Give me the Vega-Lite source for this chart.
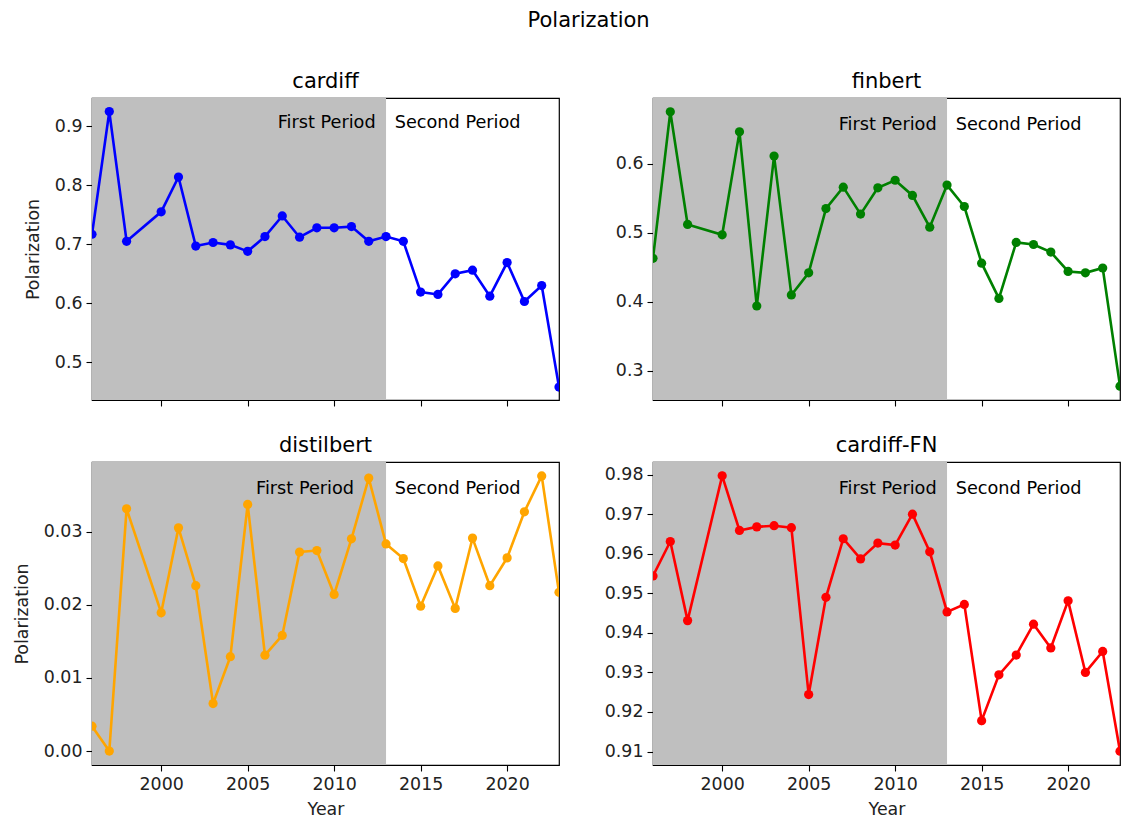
{
  "$schema": "https://vega.github.io/schema/vega-lite/v6.json",
  "background": "white",
  "padding": {"left": 12, "top": 10, "right": 2, "bottom": 2},
  "title": {"text": "Polarization", "anchor": "middle", "fontSize": 21, "fontWeight": "normal", "font": "DejaVu Sans", "color": "#000000", "offset": 39, "dx": 22},
  "datasets": {
    "series": [
      {"model": "cardiff", "year": 1996, "value": 0.717},
      {"model": "cardiff", "year": 1997, "value": 0.925},
      {"model": "cardiff", "year": 1998, "value": 0.705},
      {"model": "cardiff", "year": 2000, "value": 0.755},
      {"model": "cardiff", "year": 2001, "value": 0.814},
      {"model": "cardiff", "year": 2002, "value": 0.697},
      {"model": "cardiff", "year": 2003, "value": 0.703},
      {"model": "cardiff", "year": 2004, "value": 0.699},
      {"model": "cardiff", "year": 2005, "value": 0.688},
      {"model": "cardiff", "year": 2006, "value": 0.713},
      {"model": "cardiff", "year": 2007, "value": 0.748},
      {"model": "cardiff", "year": 2008, "value": 0.712},
      {"model": "cardiff", "year": 2009, "value": 0.728},
      {"model": "cardiff", "year": 2010, "value": 0.728},
      {"model": "cardiff", "year": 2011, "value": 0.730},
      {"model": "cardiff", "year": 2012, "value": 0.705},
      {"model": "cardiff", "year": 2013, "value": 0.713},
      {"model": "cardiff", "year": 2014, "value": 0.705},
      {"model": "cardiff", "year": 2015, "value": 0.619},
      {"model": "cardiff", "year": 2016, "value": 0.615},
      {"model": "cardiff", "year": 2017, "value": 0.650},
      {"model": "cardiff", "year": 2018, "value": 0.656},
      {"model": "cardiff", "year": 2019, "value": 0.612},
      {"model": "cardiff", "year": 2020, "value": 0.669},
      {"model": "cardiff", "year": 2021, "value": 0.603},
      {"model": "cardiff", "year": 2022, "value": 0.630},
      {"model": "cardiff", "year": 2023, "value": 0.458},
      {"model": "finbert", "year": 1996, "value": 0.463},
      {"model": "finbert", "year": 1997, "value": 0.675},
      {"model": "finbert", "year": 1998, "value": 0.512},
      {"model": "finbert", "year": 2000, "value": 0.497},
      {"model": "finbert", "year": 2001, "value": 0.646},
      {"model": "finbert", "year": 2002, "value": 0.394},
      {"model": "finbert", "year": 2003, "value": 0.611},
      {"model": "finbert", "year": 2004, "value": 0.410},
      {"model": "finbert", "year": 2005, "value": 0.442},
      {"model": "finbert", "year": 2006, "value": 0.535},
      {"model": "finbert", "year": 2007, "value": 0.566},
      {"model": "finbert", "year": 2008, "value": 0.527},
      {"model": "finbert", "year": 2009, "value": 0.565},
      {"model": "finbert", "year": 2010, "value": 0.576},
      {"model": "finbert", "year": 2011, "value": 0.554},
      {"model": "finbert", "year": 2012, "value": 0.508},
      {"model": "finbert", "year": 2013, "value": 0.569},
      {"model": "finbert", "year": 2014, "value": 0.538},
      {"model": "finbert", "year": 2015, "value": 0.456},
      {"model": "finbert", "year": 2016, "value": 0.405},
      {"model": "finbert", "year": 2017, "value": 0.486},
      {"model": "finbert", "year": 2018, "value": 0.483},
      {"model": "finbert", "year": 2019, "value": 0.472},
      {"model": "finbert", "year": 2020, "value": 0.444},
      {"model": "finbert", "year": 2021, "value": 0.442},
      {"model": "finbert", "year": 2022, "value": 0.449},
      {"model": "finbert", "year": 2023, "value": 0.278},
      {"model": "distilbert", "year": 1996, "value": 0.0034},
      {"model": "distilbert", "year": 1997, "value": 0.0000},
      {"model": "distilbert", "year": 1998, "value": 0.0331},
      {"model": "distilbert", "year": 2000, "value": 0.0189},
      {"model": "distilbert", "year": 2001, "value": 0.0305},
      {"model": "distilbert", "year": 2002, "value": 0.0226},
      {"model": "distilbert", "year": 2003, "value": 0.0065},
      {"model": "distilbert", "year": 2004, "value": 0.0129},
      {"model": "distilbert", "year": 2005, "value": 0.0337},
      {"model": "distilbert", "year": 2006, "value": 0.0131},
      {"model": "distilbert", "year": 2007, "value": 0.0158},
      {"model": "distilbert", "year": 2008, "value": 0.0272},
      {"model": "distilbert", "year": 2009, "value": 0.0274},
      {"model": "distilbert", "year": 2010, "value": 0.0214},
      {"model": "distilbert", "year": 2011, "value": 0.0290},
      {"model": "distilbert", "year": 2012, "value": 0.0373},
      {"model": "distilbert", "year": 2013, "value": 0.0283},
      {"model": "distilbert", "year": 2014, "value": 0.0263},
      {"model": "distilbert", "year": 2015, "value": 0.0198},
      {"model": "distilbert", "year": 2016, "value": 0.0253},
      {"model": "distilbert", "year": 2017, "value": 0.0195},
      {"model": "distilbert", "year": 2018, "value": 0.0291},
      {"model": "distilbert", "year": 2019, "value": 0.0226},
      {"model": "distilbert", "year": 2020, "value": 0.0264},
      {"model": "distilbert", "year": 2021, "value": 0.0327},
      {"model": "distilbert", "year": 2022, "value": 0.0376},
      {"model": "distilbert", "year": 2023, "value": 0.0217},
      {"model": "cardiff-FN", "year": 1996, "value": 0.9544},
      {"model": "cardiff-FN", "year": 1997, "value": 0.9631},
      {"model": "cardiff-FN", "year": 1998, "value": 0.9431},
      {"model": "cardiff-FN", "year": 2000, "value": 0.9797},
      {"model": "cardiff-FN", "year": 2001, "value": 0.9659},
      {"model": "cardiff-FN", "year": 2002, "value": 0.9668},
      {"model": "cardiff-FN", "year": 2003, "value": 0.9671},
      {"model": "cardiff-FN", "year": 2004, "value": 0.9666},
      {"model": "cardiff-FN", "year": 2005, "value": 0.9244},
      {"model": "cardiff-FN", "year": 2006, "value": 0.9490},
      {"model": "cardiff-FN", "year": 2007, "value": 0.9638},
      {"model": "cardiff-FN", "year": 2008, "value": 0.9587},
      {"model": "cardiff-FN", "year": 2009, "value": 0.9627},
      {"model": "cardiff-FN", "year": 2010, "value": 0.9622},
      {"model": "cardiff-FN", "year": 2011, "value": 0.9700},
      {"model": "cardiff-FN", "year": 2012, "value": 0.9605},
      {"model": "cardiff-FN", "year": 2013, "value": 0.9453},
      {"model": "cardiff-FN", "year": 2014, "value": 0.9472},
      {"model": "cardiff-FN", "year": 2015, "value": 0.9178},
      {"model": "cardiff-FN", "year": 2016, "value": 0.9294},
      {"model": "cardiff-FN", "year": 2017, "value": 0.9344},
      {"model": "cardiff-FN", "year": 2018, "value": 0.9422},
      {"model": "cardiff-FN", "year": 2019, "value": 0.9362},
      {"model": "cardiff-FN", "year": 2020, "value": 0.9481},
      {"model": "cardiff-FN", "year": 2021, "value": 0.9300},
      {"model": "cardiff-FN", "year": 2022, "value": 0.9353},
      {"model": "cardiff-FN", "year": 2023, "value": 0.9101}
    ],
    "periods": [{"start": 1996, "end": 2013}],
    "notes": [
      {"model": "cardiff", "label": "First Period", "year": 2012.4, "value": 0.906},
      {"model": "cardiff", "label": "Second Period", "year": 2013.5, "value": 0.906},
      {"model": "finbert", "label": "First Period", "year": 2012.4, "value": 0.656},
      {"model": "finbert", "label": "Second Period", "year": 2013.5, "value": 0.656},
      {"model": "distilbert", "label": "First Period", "year": 2011.15, "value": 0.0358},
      {"model": "distilbert", "label": "Second Period", "year": 2013.5, "value": 0.0358},
      {"model": "cardiff-FN", "label": "First Period", "year": 2012.4, "value": 0.9764},
      {"model": "cardiff-FN", "label": "Second Period", "year": 2013.5, "value": 0.9764}
    ]
  },
  "columns": 2,
  "spacing": {"row": 62, "column": 94},
  "bounds": "flush",
  "concat": [
    {
      "width": 467, "height": 302,
      "title": {"text": "cardiff", "offset": 6},
      "layer": [
        {"data": {"name": "periods"}, "mark": {"type": "rect", "color": "#bfbfbf"},
         "encoding": {"x": {"field": "start", "type": "quantitative", "scale": {"domain": [1996, 2023], "nice": false, "zero": false}}, "x2": {"field": "end"}}},
        {"data": {"name": "series"}, "transform": [{"filter": "datum.model == 'cardiff'"}],
         "mark": {"type": "line", "color": "#0000ff", "strokeWidth": 2.6, "clip": true, "point": {"filled": true, "size": 85, "color": "#0000ff", "opacity": 1}},
         "encoding": {
           "x": {"field": "year", "type": "quantitative", "axis": {"values": [2000, 2005, 2010, 2015, 2020], "labels": false, "title": null}},
           "y": {"field": "value", "type": "quantitative", "scale": {"domain": [0.436, 0.948], "nice": false, "zero": false}, "axis": {"values": [0.5, 0.6, 0.7, 0.8, 0.9], "format": ".1f", "title": "Polarization"}}
         }},
        {"data": {"name": "notes"}, "transform": [{"filter": "datum.model == 'cardiff' && datum.label == 'First Period'"}],
         "mark": {"type": "text", "align": "right", "baseline": "middle", "fontSize": 17.7, "color": "#000000"},
         "encoding": {"x": {"field": "year", "type": "quantitative"}, "y": {"field": "value", "type": "quantitative"}, "text": {"field": "label"}}},
        {"data": {"name": "notes"}, "transform": [{"filter": "datum.model == 'cardiff' && datum.label == 'Second Period'"}],
         "mark": {"type": "text", "align": "left", "baseline": "middle", "fontSize": 17.7, "color": "#000000"},
         "encoding": {"x": {"field": "year", "type": "quantitative"}, "y": {"field": "value", "type": "quantitative"}, "text": {"field": "label"}}}
      ]
    },
    {
      "width": 467, "height": 302,
      "title": {"text": "finbert", "offset": 6},
      "layer": [
        {"data": {"name": "periods"}, "mark": {"type": "rect", "color": "#bfbfbf"},
         "encoding": {"x": {"field": "start", "type": "quantitative", "scale": {"domain": [1996, 2023], "nice": false, "zero": false}}, "x2": {"field": "end"}}},
        {"data": {"name": "series"}, "transform": [{"filter": "datum.model == 'finbert'"}],
         "mark": {"type": "line", "color": "#008000", "strokeWidth": 2.6, "clip": true, "point": {"filled": true, "size": 85, "color": "#008000", "opacity": 1}},
         "encoding": {
           "x": {"field": "year", "type": "quantitative", "axis": {"values": [2000, 2005, 2010, 2015, 2020], "labels": false, "title": null}},
           "y": {"field": "value", "type": "quantitative", "scale": {"domain": [0.258, 0.695], "nice": false, "zero": false}, "axis": {"values": [0.3, 0.4, 0.5, 0.6], "format": ".1f", "title": null}}
         }},
        {"data": {"name": "notes"}, "transform": [{"filter": "datum.model == 'finbert' && datum.label == 'First Period'"}],
         "mark": {"type": "text", "align": "right", "baseline": "middle", "fontSize": 17.7, "color": "#000000"},
         "encoding": {"x": {"field": "year", "type": "quantitative"}, "y": {"field": "value", "type": "quantitative"}, "text": {"field": "label"}}},
        {"data": {"name": "notes"}, "transform": [{"filter": "datum.model == 'finbert' && datum.label == 'Second Period'"}],
         "mark": {"type": "text", "align": "left", "baseline": "middle", "fontSize": 17.7, "color": "#000000"},
         "encoding": {"x": {"field": "year", "type": "quantitative"}, "y": {"field": "value", "type": "quantitative"}, "text": {"field": "label"}}}
      ]
    },
    {
      "width": 467, "height": 303,
      "title": {"text": "distilbert", "offset": 6},
      "layer": [
        {"data": {"name": "periods"}, "mark": {"type": "rect", "color": "#bfbfbf"},
         "encoding": {"x": {"field": "start", "type": "quantitative", "scale": {"domain": [1996, 2023], "nice": false, "zero": false}}, "x2": {"field": "end"}}},
        {"data": {"name": "series"}, "transform": [{"filter": "datum.model == 'distilbert'"}],
         "mark": {"type": "line", "color": "#ffa500", "strokeWidth": 2.6, "clip": true, "point": {"filled": true, "size": 85, "color": "#ffa500", "opacity": 1}},
         "encoding": {
           "x": {"field": "year", "type": "quantitative", "axis": {"values": [2000, 2005, 2010, 2015, 2020], "format": "d", "title": "Year"}},
           "y": {"field": "value", "type": "quantitative", "scale": {"domain": [-0.0019, 0.0395], "nice": false, "zero": false}, "axis": {"values": [0.0, 0.01, 0.02, 0.03], "format": ".2f", "title": "Polarization"}}
         }},
        {"data": {"name": "notes"}, "transform": [{"filter": "datum.model == 'distilbert' && datum.label == 'First Period'"}],
         "mark": {"type": "text", "align": "right", "baseline": "middle", "fontSize": 17.7, "color": "#000000"},
         "encoding": {"x": {"field": "year", "type": "quantitative"}, "y": {"field": "value", "type": "quantitative"}, "text": {"field": "label"}}},
        {"data": {"name": "notes"}, "transform": [{"filter": "datum.model == 'distilbert' && datum.label == 'Second Period'"}],
         "mark": {"type": "text", "align": "left", "baseline": "middle", "fontSize": 17.7, "color": "#000000"},
         "encoding": {"x": {"field": "year", "type": "quantitative"}, "y": {"field": "value", "type": "quantitative"}, "text": {"field": "label"}}}
      ]
    },
    {
      "width": 467, "height": 303,
      "title": {"text": "cardiff-FN", "offset": 6},
      "layer": [
        {"data": {"name": "periods"}, "mark": {"type": "rect", "color": "#bfbfbf"},
         "encoding": {"x": {"field": "start", "type": "quantitative", "scale": {"domain": [1996, 2023], "nice": false, "zero": false}}, "x2": {"field": "end"}}},
        {"data": {"name": "series"}, "transform": [{"filter": "datum.model == 'cardiff-FN'"}],
         "mark": {"type": "line", "color": "#ff0000", "strokeWidth": 2.6, "clip": true, "point": {"filled": true, "size": 85, "color": "#ff0000", "opacity": 1}},
         "encoding": {
           "x": {"field": "year", "type": "quantitative", "axis": {"values": [2000, 2005, 2010, 2015, 2020], "format": "d", "title": "Year"}},
           "y": {"field": "value", "type": "quantitative", "scale": {"domain": [0.9066, 0.9832], "nice": false, "zero": false}, "axis": {"values": [0.91, 0.92, 0.93, 0.94, 0.95, 0.96, 0.97, 0.98], "format": ".2f", "title": null}}
         }},
        {"data": {"name": "notes"}, "transform": [{"filter": "datum.model == 'cardiff-FN' && datum.label == 'First Period'"}],
         "mark": {"type": "text", "align": "right", "baseline": "middle", "fontSize": 17.7, "color": "#000000"},
         "encoding": {"x": {"field": "year", "type": "quantitative"}, "y": {"field": "value", "type": "quantitative"}, "text": {"field": "label"}}},
        {"data": {"name": "notes"}, "transform": [{"filter": "datum.model == 'cardiff-FN' && datum.label == 'Second Period'"}],
         "mark": {"type": "text", "align": "left", "baseline": "middle", "fontSize": 17.7, "color": "#000000"},
         "encoding": {"x": {"field": "year", "type": "quantitative"}, "y": {"field": "value", "type": "quantitative"}, "text": {"field": "label"}}}
      ]
    }
  ],
  "config": {
    "font": "DejaVu Sans",
    "view": {"stroke": "#000000", "strokeWidth": 1.2},
    "axis": {"grid": false, "domain": false, "ticks": true, "tickColor": "#000000", "tickSize": 6, "tickWidth": 1.1, "labelPadding": 4, "labelFont": "DejaVu Sans", "labelFontSize": 17.4, "labelColor": "#222222", "titleFont": "DejaVu Sans", "titleFontSize": 17.4, "titleFontWeight": "normal", "titleColor": "#222222"},
    "axisX": {"titlePadding": 8},
    "axisY": {"titlePadding": 12},
    "title": {"font": "DejaVu Sans", "fontSize": 21, "fontWeight": "normal", "color": "#000000"}
  }
}
